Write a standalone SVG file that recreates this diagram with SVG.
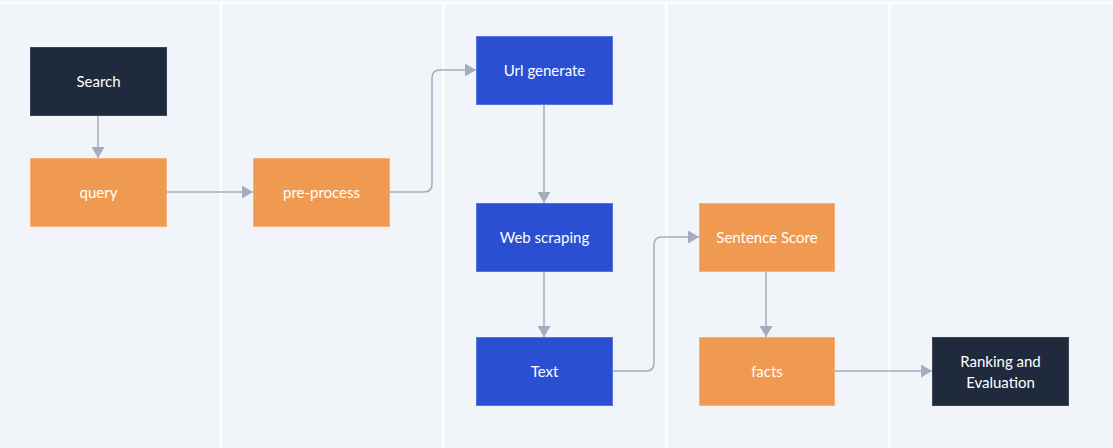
<svg xmlns="http://www.w3.org/2000/svg" width="1113" height="448" viewBox="0 0 1113 448">
<style>
.lane{stroke:#ffffff;stroke-width:2.5;fill:none}
.dark{fill:#1f2a3c;stroke:#3a4558;stroke-width:1}
.orange{fill:#ef9a50;stroke:#f4b27a;stroke-width:1}
.blue{fill:#2a4fd3;stroke:#5574e0;stroke-width:1}
.lbl{font-family:Lato,"Noto Sans",sans-serif;font-size:15px;fill:#ffffff;text-anchor:middle;dominant-baseline:central}
.edge{stroke:#a3adbf;stroke-width:1.5;fill:none;marker-end:url(#arr)}
</style>
<defs>
<marker id="arr" viewBox="0 0 11 13" refX="11" refY="6.5" markerWidth="11" markerHeight="13" markerUnits="userSpaceOnUse" orient="auto">
<path d="M0,0 L11,6.5 L0,13 Z" fill="#a3adbf"/>
</marker>
</defs>
<rect x="0" y="0" width="1113" height="448" fill="#f1f4f9"/>
<g id="lanes">
<line class="lane" x1="0" y1="3" x2="1113" y2="3"/>
<line class="lane" x1="221" y1="3" x2="221" y2="448"/>
<line class="lane" x1="443.5" y1="3" x2="443.5" y2="448"/>
<line class="lane" x1="666.5" y1="3" x2="666.5" y2="448"/>
<line class="lane" x1="889.5" y1="3" x2="889.5" y2="448"/>
</g>
<g id="connectors">
<path class="edge" d="M98,115 V158"/>
<path class="edge" d="M166,192 H253"/>
<path class="edge" d="M389,192 H424 Q432,192 432,184 V78 Q432,70 440,70 H476"/>
<path class="edge" d="M544,104 V203"/>
<path class="edge" d="M544,271 V337"/>
<path class="edge" d="M612,371 H646 Q654,371 654,363 V245 Q654,237 662,237 H699"/>
<path class="edge" d="M766,271 V337"/>
<path class="edge" d="M834,371 H932"/>
</g>
<g id="search"><rect class="dark" x="30.5" y="47.5" width="136" height="68"/><text class="lbl" x="98.5" y="81">Search</text></g>
<g id="query"><rect class="orange" x="30.5" y="158.5" width="136" height="68"/><text class="lbl" x="98.5" y="192">query</text></g>
<g id="preprocess"><rect class="orange" x="253.5" y="158.5" width="136" height="68"/><text class="lbl" x="321.5" y="192">pre-process</text></g>
<g id="urlgenerate"><rect class="blue" x="476.5" y="36.5" width="136" height="68"/><text class="lbl" x="544.5" y="70">Url generate</text></g>
<g id="webscraping"><rect class="blue" x="476.5" y="203.5" width="136" height="68"/><text class="lbl" x="544.5" y="237">Web scraping</text></g>
<g id="text"><rect class="blue" x="476.5" y="337.5" width="136" height="68"/><text class="lbl" x="544.5" y="371">Text</text></g>
<g id="sentencescore"><rect class="orange" x="699.5" y="203.5" width="135" height="68"/><text class="lbl" x="767" y="237">Sentence Score</text></g>
<g id="facts"><rect class="orange" x="699.5" y="337.5" width="135" height="68"/><text class="lbl" x="767" y="371">facts</text></g>
<g id="ranking"><rect class="dark" x="932.5" y="337.5" width="136" height="68"/><text class="lbl" x="1000.5" y="361">Ranking and</text><text class="lbl" x="1000.5" y="382">Evaluation</text></g>
</svg>
